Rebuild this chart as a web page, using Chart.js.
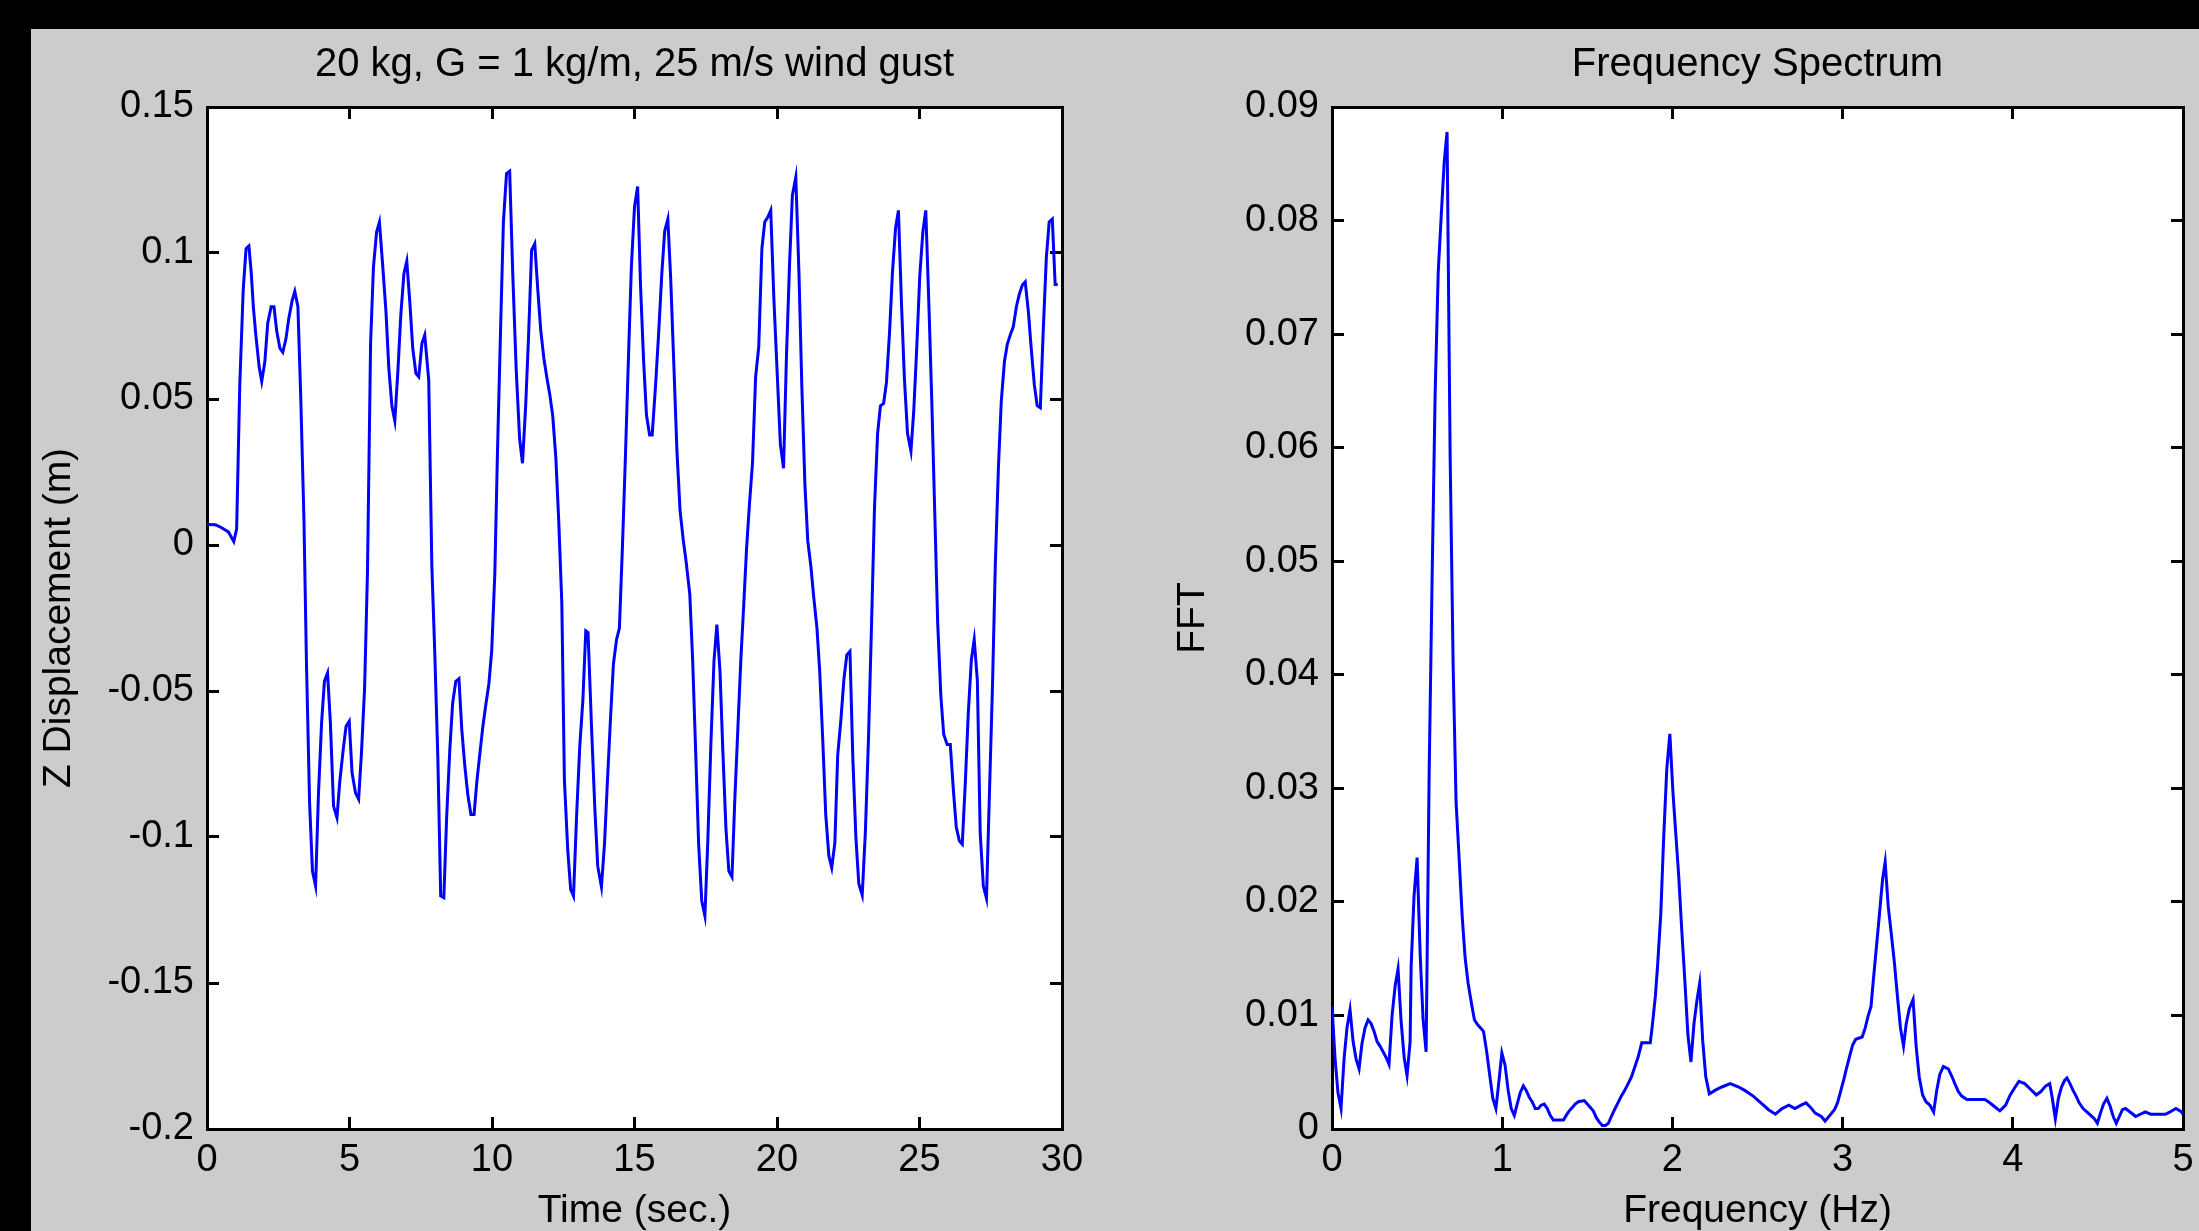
<!DOCTYPE html>
<html>
<head>
<meta charset="utf-8">
<title>Wind gust response</title>
<script src="https://cdn.jsdelivr.net/npm/chart.js@4.4.1/dist/chart.umd.min.js"></script>
<style>
    html, body { margin: 0; padding: 0; width: 2199px; height: 1231px; overflow: hidden; background: #000; }
    #figure { position: absolute; left: 31px; top: 29px; width: 2168px; height: 1202px; background: #cccccc; overflow: hidden; }
    #figure canvas { position: absolute; top: 0; }
    #dispChart { left: 0; }
    #fftChart { left: 1134px; }
</style>
</head>
<body>
<div id="figure">
    <canvas id="dispChart" width="1207" height="1202"></canvas>
    <canvas id="fftChart" width="1185" height="1202"></canvas>
</div>
<script>
// --- Left panel: Z displacement vs time ---
const timeSec = [
    0.00, 0.30, 0.50, 0.75, 0.94, 1.04, 1.15, 1.27, 1.37, 1.47, 1.55, 1.63, 1.72, 1.83, 1.92, 2.03, 2.13, 2.25, 2.35, 2.45,
    2.56, 2.66, 2.77, 2.87, 2.99, 3.08, 3.19, 3.29, 3.40, 3.49, 3.60, 3.70, 3.81, 3.91, 4.02, 4.12, 4.23, 4.33, 4.44, 4.56,
    4.66, 4.78, 4.88, 4.99, 5.09, 5.21, 5.32, 5.42, 5.53, 5.63, 5.74, 5.84, 5.95, 6.05, 6.16, 6.28, 6.38, 6.49, 6.59, 6.70,
    6.80, 6.91, 7.01, 7.12, 7.22, 7.33, 7.43, 7.54, 7.64, 7.78, 7.89, 7.99, 8.10, 8.20, 8.31, 8.41, 8.52, 8.62, 8.73, 8.84,
    8.94, 9.05, 9.15, 9.26, 9.37, 9.47, 9.57, 9.68, 9.78, 9.89, 9.99, 10.10, 10.19, 10.30, 10.40, 10.51, 10.62, 10.73, 10.85, 10.97,
    11.07, 11.18, 11.28, 11.39, 11.50, 11.61, 11.71, 11.82, 11.92, 12.03, 12.13, 12.24, 12.34, 12.45, 12.54, 12.66, 12.76, 12.86, 12.97, 13.08,
    13.19, 13.29, 13.37, 13.50, 13.61, 13.71, 13.84, 13.95, 14.05, 14.16, 14.26, 14.37, 14.47, 14.58, 14.68, 14.79, 14.89, 15.00, 15.11, 15.21,
    15.32, 15.42, 15.53, 15.62, 15.74, 15.85, 15.96, 16.06, 16.17, 16.27, 16.38, 16.49, 16.60, 16.71, 16.81, 16.94, 17.04, 17.15, 17.25, 17.36,
    17.47, 17.57, 17.68, 17.79, 17.89, 18.00, 18.10, 18.21, 18.31, 18.42, 18.52, 18.63, 18.73, 18.84, 18.93, 19.03, 19.14, 19.25, 19.36, 19.47,
    19.57, 19.68, 19.78, 19.89, 20.02, 20.12, 20.23, 20.33, 20.44, 20.54, 20.66, 20.77, 20.87, 20.98, 21.08, 21.19, 21.29, 21.40, 21.50, 21.61,
    21.71, 21.82, 21.92, 22.03, 22.13, 22.24, 22.35, 22.45, 22.56, 22.66, 22.77, 22.87, 22.99, 23.10, 23.21, 23.32, 23.42, 23.53, 23.63, 23.74,
    23.84, 23.95, 24.05, 24.16, 24.26, 24.37, 24.47, 24.58, 24.70, 24.80, 24.91, 25.01, 25.12, 25.22, 25.33, 25.43, 25.54, 25.64, 25.75, 25.85,
    25.97, 26.08, 26.19, 26.29, 26.40, 26.50, 26.61, 26.71, 26.82, 26.92, 27.03, 27.13, 27.24, 27.35, 27.45, 27.56, 27.66, 27.77, 27.87, 27.98,
    28.08, 28.19, 28.29, 28.40, 28.50, 28.61, 28.71, 28.82, 28.92, 29.03, 29.13, 29.24, 29.34, 29.45, 29.55, 29.66, 29.76, 29.85
];
const zDisplacement = [
    0.0070, 0.0069, 0.0060, 0.0045, 0.0012, 0.0055, 0.0548, 0.0873, 0.1015, 0.1024, 0.0935, 0.0810, 0.0713, 0.0610, 0.0560, 0.0628, 0.0759, 0.0816, 0.0816, 0.0730,
    0.0673, 0.0660, 0.0706, 0.0776, 0.0838, 0.0869, 0.0816, 0.0504, 0.0094, -0.0404, -0.0883, -0.1117, -0.1168, -0.0854, -0.0610, -0.0467, -0.0438, -0.0610, -0.0894, -0.0934,
    -0.0809, -0.0700, -0.0621, -0.0604, -0.0780, -0.0849, -0.0871, -0.0712, -0.0490, -0.0096, 0.0690, 0.0952, 0.1072, 0.1106, 0.0964, 0.0799, 0.0605, 0.0474, 0.0425, 0.0599,
    0.0787, 0.0930, 0.0972, 0.0827, 0.0673, 0.0588, 0.0576, 0.0690, 0.0719, 0.0565, -0.0074, -0.0362, -0.0729, -0.1202, -0.1208, -0.0929, -0.0700, -0.0541, -0.0467, -0.0458,
    -0.0632, -0.0761, -0.0854, -0.0923, -0.0923, -0.0809, -0.0718, -0.0621, -0.0549, -0.0476, -0.0362, -0.0096, 0.0310, 0.0736, 0.1106, 0.1272, 0.1280, 0.0924, 0.0599, 0.0363,
    0.0280, 0.0474, 0.0707, 0.1010, 0.1032, 0.0869, 0.0736, 0.0639, 0.0576, 0.0514, 0.0443, 0.0299, 0.0086, -0.0199, -0.0803, -0.1048, -0.1179, -0.1202, -0.0923, -0.0689,
    -0.0529, -0.0294, -0.0300, -0.0644, -0.0906, -0.1100, -0.1171, -0.1020, -0.0809, -0.0590, -0.0408, -0.0324, -0.0285, 0.0003, 0.0299, 0.0648, 0.0952, 0.1158, 0.1228, 0.0892,
    0.0630, 0.0445, 0.0377, 0.0377, 0.0548, 0.0730, 0.0932, 0.1075, 0.1116, 0.0912, 0.0618, 0.0320, 0.0117, 0.0018, -0.0056, -0.0168, -0.0393, -0.0718, -0.1025, -0.1219,
    -0.1270, -0.1020, -0.0681, -0.0396, -0.0273, -0.0433, -0.0706, -0.0974, -0.1117, -0.1137, -0.0871, -0.0621, -0.0396, -0.0191, -0.0016, 0.0135, 0.0280, 0.0576, 0.0679, 0.1015,
    0.1106, 0.1123, 0.1146, 0.0844, 0.0559, 0.0343, 0.0263, 0.0639, 0.0962, 0.1198, 0.1260, 0.0932, 0.0548, 0.0206, 0.0014, -0.0074, -0.0180, -0.0282, -0.0435, -0.0678,
    -0.0923, -0.1065, -0.1105, -0.1020, -0.0720, -0.0601, -0.0458, -0.0376, -0.0364, -0.0729, -0.1005, -0.1160, -0.1199, -0.0986, -0.0663, -0.0262, 0.0126, 0.0382, 0.0477, 0.0485,
    0.0556, 0.0730, 0.0932, 0.1086, 0.1146, 0.0821, 0.0570, 0.0382, 0.0322, 0.0462, 0.0690, 0.0922, 0.1075, 0.1146, 0.0821, 0.0497, 0.0094, -0.0271, -0.0518, -0.0649,
    -0.0683, -0.0683, -0.0841, -0.0966, -0.1014, -0.1025, -0.0809, -0.0579, -0.0393, -0.0324, -0.0464, -0.0986, -0.1168, -0.1210, -0.0864, -0.0487, -0.0067, 0.0268, 0.0493, 0.0628,
    0.0687, 0.0721, 0.0747, 0.0816, 0.0858, 0.0890, 0.0901, 0.0799, 0.0673, 0.0548, 0.0477, 0.0470, 0.0730, 0.0983, 0.1106, 0.1116, 0.0892, 0.0892
];
const timeTicks = [0, 5, 10, 15, 20, 25, 30];
const timeTickLabels = ['0', '5', '10', '15', '20', '25', '30'];
const dispTicks = [-0.2, -0.15, -0.1, -0.05, 0, 0.05, 0.1, 0.15];
const dispTickLabels = ['-0.2', '-0.15', '-0.1', '-0.05', '0', '0.05', '0.1', '0.15'];

// --- Right panel: FFT magnitude vs frequency ---
const freqHz = [
    0.000, 0.018, 0.035, 0.053, 0.071, 0.088, 0.106, 0.124, 0.141, 0.159, 0.176, 0.194, 0.212, 0.229, 0.247, 0.265, 0.282, 0.300, 0.318, 0.335,
    0.353, 0.371, 0.388, 0.406, 0.424, 0.441, 0.459, 0.465, 0.482, 0.500, 0.518, 0.535, 0.553, 0.571, 0.588, 0.606, 0.624, 0.641, 0.659, 0.676,
    0.694, 0.712, 0.729, 0.747, 0.765, 0.782, 0.800, 0.820, 0.837, 0.855, 0.873, 0.890, 0.908, 0.927, 0.945, 0.963, 0.980, 0.998, 1.017, 1.035,
    1.053, 1.071, 1.088, 1.106, 1.124, 1.141, 1.159, 1.176, 1.194, 1.212, 1.229, 1.247, 1.265, 1.282, 1.300, 1.360, 1.376, 1.394, 1.412, 1.429,
    1.447, 1.482, 1.500, 1.518, 1.535, 1.553, 1.571, 1.588, 1.606, 1.624, 1.641, 1.660, 1.680, 1.700, 1.720, 1.740, 1.760, 1.780, 1.800, 1.820,
    1.850, 1.870, 1.882, 1.900, 1.913, 1.932, 1.948, 1.967, 1.985, 2.003, 2.019, 2.037, 2.055, 2.073, 2.091, 2.109, 2.127, 2.145, 2.160, 2.178,
    2.196, 2.217, 2.250, 2.290, 2.340, 2.390, 2.425, 2.475, 2.520, 2.565, 2.605, 2.644, 2.684, 2.720, 2.756, 2.785, 2.812, 2.839, 2.875, 2.897,
    2.925, 2.952, 2.970, 2.988, 3.006, 3.024, 3.041, 3.059, 3.077, 3.115, 3.133, 3.149, 3.167, 3.180, 3.198, 3.217, 3.235, 3.250, 3.268, 3.286,
    3.304, 3.322, 3.340, 3.358, 3.374, 3.392, 3.414, 3.432, 3.450, 3.470, 3.490, 3.513, 3.535, 3.553, 3.571, 3.592, 3.621, 3.643, 3.662, 3.680,
    3.700, 3.730, 3.835, 3.857, 3.890, 3.924, 3.958, 3.985, 4.014, 4.036, 4.070, 4.104, 4.138, 4.165, 4.194, 4.217, 4.232, 4.250, 4.268, 4.286,
    4.305, 4.318, 4.336, 4.354, 4.372, 4.390, 4.413, 4.435, 4.458, 4.479, 4.497, 4.515, 4.533, 4.553, 4.572, 4.590, 4.608, 4.626, 4.644, 4.662,
    4.689, 4.722, 4.749, 4.778, 4.810, 4.897, 4.924, 4.958, 4.992, 5.000
];
const fftMagnitude = [
    0.0108, 0.0062, 0.0032, 0.0018, 0.0062, 0.0089, 0.0105, 0.0077, 0.0062, 0.0053, 0.0075, 0.0089, 0.0096, 0.0093, 0.0086, 0.0077, 0.0073, 0.0068, 0.0063, 0.0057,
    0.0100, 0.0126, 0.0141, 0.0095, 0.0063, 0.0047, 0.0077, 0.0143, 0.0205, 0.0239, 0.0154, 0.0097, 0.0068, 0.0316, 0.0483, 0.0648, 0.0754, 0.0802, 0.0851, 0.0878,
    0.0594, 0.0406, 0.0288, 0.0238, 0.0187, 0.0151, 0.0128, 0.0110, 0.0096, 0.0092, 0.0089, 0.0086, 0.0069, 0.0047, 0.0027, 0.0018, 0.0041, 0.0067, 0.0056, 0.0034,
    0.0018, 0.0012, 0.0022, 0.0032, 0.0038, 0.0034, 0.0028, 0.0024, 0.0018, 0.0018, 0.0021, 0.0022, 0.0018, 0.0012, 0.0008, 0.0008, 0.0012, 0.0016, 0.0019, 0.0022,
    0.0024, 0.0025, 0.0022, 0.0019, 0.0016, 0.0010, 0.0006, 0.0003, 0.0003, 0.0005, 0.0011, 0.0017, 0.0023, 0.0029, 0.0034, 0.0040, 0.0046, 0.0055, 0.0064, 0.0076,
    0.0076, 0.0076, 0.0091, 0.0117, 0.0144, 0.0190, 0.0254, 0.0317, 0.0348, 0.0297, 0.0262, 0.0223, 0.0175, 0.0131, 0.0083, 0.0059, 0.0093, 0.0114, 0.0128, 0.0078,
    0.0046, 0.0031, 0.0034, 0.0037, 0.0040, 0.0037, 0.0034, 0.0029, 0.0023, 0.0017, 0.0013, 0.0018, 0.0021, 0.0018, 0.0021, 0.0023, 0.0019, 0.0014, 0.0011, 0.0007,
    0.0012, 0.0017, 0.0023, 0.0033, 0.0043, 0.0054, 0.0064, 0.0074, 0.0079, 0.0081, 0.0089, 0.0099, 0.0108, 0.0130, 0.0159, 0.0190, 0.0220, 0.0235, 0.0196, 0.0172,
    0.0147, 0.0117, 0.0089, 0.0073, 0.0093, 0.0106, 0.0114, 0.0073, 0.0046, 0.0030, 0.0024, 0.0021, 0.0015, 0.0034, 0.0048, 0.0055, 0.0053, 0.0046, 0.0039, 0.0033,
    0.0029, 0.0026, 0.0026, 0.0024, 0.0020, 0.0016, 0.0021, 0.0030, 0.0037, 0.0042, 0.0040, 0.0035, 0.0030, 0.0033, 0.0038, 0.0040, 0.0027, 0.0009, 0.0027, 0.0037,
    0.0043, 0.0045, 0.0040, 0.0034, 0.0029, 0.0023, 0.0018, 0.0015, 0.0012, 0.0009, 0.0005, 0.0014, 0.0022, 0.0027, 0.0020, 0.0011, 0.0005, 0.0011, 0.0017, 0.0018,
    0.0015, 0.0011, 0.0013, 0.0015, 0.0013, 0.0013, 0.0015, 0.0018, 0.0015, 0.0013
];
const freqTicks = [0, 1, 2, 3, 4, 5];
const freqTickLabels = ['0', '1', '2', '3', '4', '5'];
const fftTicks = [0, 0.01, 0.02, 0.03, 0.04, 0.05, 0.06, 0.07, 0.08, 0.09];
const fftTickLabels = ['0', '0.01', '0.02', '0.03', '0.04', '0.05', '0.06', '0.07', '0.08', '0.09'];

Chart.defaults.font.family = '"Liberation Sans", Arial, sans-serif';
Chart.defaults.color = '#000';

// white axes background, like a matlab axes box
const plotBackground = {
    id: 'plotBackground',
    beforeDraw(chart) {
        const { ctx, chartArea: a } = chart;
        ctx.save();
        ctx.fillStyle = '#ffffff';
        ctx.fillRect(a.left, a.top, a.right - a.left, a.bottom - a.top);
        ctx.restore();
    }
};

// one side of the box: border plus inward tick marks, labels only on bottom/left
function boxAxis(position, min, max, tickValues, tickLabels, size, titleText, titlePad) {
    const horizontal = position === 'top' || position === 'bottom';
    const labelled = position === 'bottom' || position === 'left';
    return {
        type: 'linear',
        position: position,
        min: min,
        max: max,
        afterBuildTicks: scale => { scale.ticks = tickValues.map(v => ({ value: v })); },
        afterFit: scale => {
            if (horizontal) scale.height = size;
            else scale.width = size;
        },
        border: { display: true, color: '#000', width: 3 },
        grid: {
            display: true,
            drawOnChartArea: false,
            drawTicks: true,
            tickLength: -12,
            tickWidth: 3,
            color: '#000'
        },
        ticks: {
            display: labelled,
            color: '#000',
            autoSkip: false,
            maxRotation: 0,
            minRotation: 0,
            padding: horizontal ? 21 : 25,
            font: { size: 38, lineHeight: 1.2 },
            callback: (value, index) => tickLabels[index]
        },
        title: titleText ? {
            display: true,
            text: titleText,
            color: '#000',
            font: { size: 39, lineHeight: 1 },
            padding: titlePad
        } : { display: false }
    };
}

function makePanel(canvasId, title, xs, ys, x, y) {
    const points = xs.map((v, i) => ({ x: v, y: ys[i] }));
    return new Chart(document.getElementById(canvasId), {
        type: 'line',
        data: {
            datasets: [{
                data: points,
                borderColor: '#0000ff',
                borderWidth: 3,
                pointRadius: 0,
                tension: 0,
                fill: false
            }]
        },
        options: {
            responsive: false,
            animation: false,
            devicePixelRatio: 1,
            layout: { padding: 0 },
            plugins: {
                legend: { display: false },
                tooltip: { enabled: false },
                title: {
                    display: true,
                    text: title,
                    color: '#000',
                    font: { size: 40, weight: 'normal', lineHeight: 1.2 },
                    padding: { top: 12, bottom: 18 }
                }
            },
            scales: {
                x: boxAxis('bottom', x.min, x.max, x.ticks, x.labels, 102, x.title, { top: 0, bottom: 0 }),
                x2: boxAxis('top', x.min, x.max, x.ticks, x.labels, 0),
                y: boxAxis('left', y.min, y.max, y.ticks, y.labels, y.side, y.title, { top: 8.5, bottom: 0 }),
                y2: boxAxis('right', y.min, y.max, y.ticks, y.labels, y.side)
            }
        },
        plugins: [plotBackground]
    });
}

makePanel('dispChart', '20 kg, G = 1 kg/m, 25 m/s wind gust', timeSec, zDisplacement,
    { min: 0, max: 30, ticks: timeTicks, labels: timeTickLabels, title: 'Time (sec.)' },
    { min: -0.2, max: 0.15, ticks: dispTicks, labels: dispTickLabels, side: 176, title: 'Z Displacement (m)' });

makePanel('fftChart', 'Frequency Spectrum', freqHz, fftMagnitude,
    { min: 0, max: 5, ticks: freqTicks, labels: freqTickLabels, title: 'Frequency (Hz)' },
    { min: 0, max: 0.09, ticks: fftTicks, labels: fftTickLabels, side: 167, title: 'FFT' });
</script>
</body>
</html>
